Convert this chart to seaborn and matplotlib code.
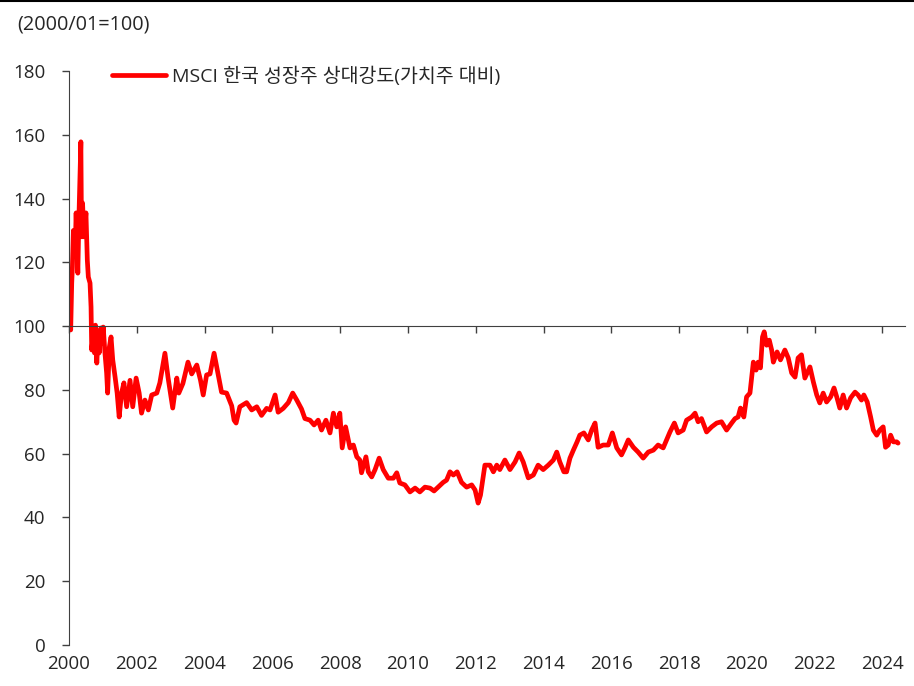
import pandas as pd
import seaborn as sns
import matplotlib.pyplot as plt
import matplotlib.lines as mlines

# decimal year, relative strength (2000/01=100)
years = [
    2000.00, 2000.05, 2000.08, 2000.10, 2000.13, 2000.18, 2000.21, 2000.26, 2000.29, 2000.35,
    2000.37, 2000.40, 2000.44, 2000.50, 2000.54, 2000.57, 2000.62, 2000.65, 2000.67, 2000.72,
    2000.75, 2000.78, 2000.82, 2000.86, 2000.89, 2000.94, 2000.97, 2001.01, 2001.06, 2001.11,
    2001.14, 2001.19, 2001.24, 2001.29, 2001.36, 2001.42, 2001.48, 2001.55, 2001.62, 2001.70,
    2001.80, 2001.88, 2001.98, 2002.07, 2002.14, 2002.24, 2002.34, 2002.44, 2002.59, 2002.68,
    2002.78, 2002.83, 2002.92, 2003.06, 2003.18, 2003.24, 2003.36, 2003.51, 2003.62, 2003.77,
    2003.88, 2003.96, 2004.06, 2004.16, 2004.28, 2004.36, 2004.50, 2004.65, 2004.80, 2004.87,
    2004.93, 2005.04, 2005.24, 2005.39, 2005.54, 2005.68, 2005.83, 2005.93, 2006.08, 2006.17,
    2006.32, 2006.47, 2006.60, 2006.72, 2006.86, 2006.96, 2007.11, 2007.23, 2007.35, 2007.45,
    2007.58, 2007.70, 2007.80, 2007.90, 2007.99, 2008.06, 2008.16, 2008.29, 2008.39, 2008.49,
    2008.58, 2008.63, 2008.76, 2008.83, 2008.93, 2009.03, 2009.15, 2009.27, 2009.42, 2009.57,
    2009.67, 2009.76, 2009.91, 2010.06, 2010.21, 2010.35, 2010.50, 2010.65, 2010.77, 2010.89,
    2011.04, 2011.14, 2011.24, 2011.34, 2011.45, 2011.58, 2011.73, 2011.88, 2011.98, 2012.07,
    2012.14, 2012.27, 2012.42, 2012.52, 2012.62, 2012.71, 2012.86, 2013.01, 2013.16, 2013.28,
    2013.40, 2013.55, 2013.70, 2013.84, 2013.99, 2014.14, 2014.29, 2014.39, 2014.48, 2014.60,
    2014.68, 2014.78, 2014.88, 2014.99, 2015.07, 2015.19, 2015.32, 2015.42, 2015.52, 2015.61,
    2015.76, 2015.91, 2016.03, 2016.16, 2016.30, 2016.40, 2016.50, 2016.65, 2016.79, 2016.94,
    2017.09, 2017.24, 2017.38, 2017.53, 2017.63, 2017.73, 2017.86, 2017.97, 2018.12, 2018.22,
    2018.37, 2018.47, 2018.56, 2018.66, 2018.81, 2018.96, 2019.11, 2019.25, 2019.40, 2019.55,
    2019.65, 2019.74, 2019.81, 2019.91, 2019.99, 2020.09, 2020.19, 2020.27, 2020.33, 2020.40,
    2020.46, 2020.51, 2020.58, 2020.66, 2020.73, 2020.78, 2020.89, 2020.99, 2021.12, 2021.22,
    2021.32, 2021.42, 2021.51, 2021.61, 2021.71, 2021.86, 2021.96, 2022.06, 2022.15, 2022.25,
    2022.35, 2022.47, 2022.57, 2022.65, 2022.74, 2022.84, 2022.94, 2023.06, 2023.19, 2023.28,
    2023.38, 2023.45, 2023.55, 2023.65, 2023.73, 2023.83, 2023.92, 2024.02, 2024.09, 2024.17,
    2024.24, 2024.32, 2024.42, 2024.46,
]
values = [
    108.2, 98.8, 113.5, 118.5, 130.0, 123.0, 135.5, 116.6, 133.0, 157.8,
    128.0, 138.6, 128.0, 135.5, 120.7, 115.4, 113.5, 106.0, 92.5, 97.8,
    91.6, 100.3, 88.4, 97.8, 91.6, 99.4, 94.7, 99.7, 91.6, 85.3,
    79.0, 93.4, 96.6, 89.4, 84.0, 79.0, 71.5, 79.0, 82.2, 74.7,
    83.0, 74.7, 83.7, 79.0, 72.7, 76.8, 73.7, 78.4, 79.0, 82.2,
    88.4, 91.5, 84.0, 74.3, 83.7, 79.0, 82.0, 88.7, 85.0, 87.8,
    83.0, 78.4, 84.7, 85.0, 91.5, 87.0, 79.3, 79.0, 75.0, 70.5,
    69.6, 74.7, 76.0, 73.7, 74.7, 72.0, 74.2, 73.7, 78.4, 73.0,
    74.2, 76.0, 79.0, 76.8, 74.0, 71.0, 70.5, 69.0, 70.5, 67.4,
    70.5, 66.5, 72.7, 68.4, 72.7, 61.8, 68.4, 61.8, 62.7, 59.0,
    58.0, 54.0, 59.0, 54.3, 52.7, 55.0, 58.6, 55.0, 52.3, 52.3,
    54.0, 50.8, 50.2, 48.0, 49.2, 48.0, 49.5, 49.2, 48.3, 49.5,
    51.0, 51.7, 54.3, 53.3, 54.3, 51.0, 49.5, 50.2, 48.6, 44.5,
    47.0, 56.4, 56.4, 54.3, 56.4, 55.0, 58.0, 55.0, 57.4, 60.2,
    57.4, 52.4, 53.3, 56.4, 55.0, 56.4, 58.0, 60.5, 57.4, 54.3,
    54.3, 58.6, 61.1, 63.7, 65.8, 66.5, 64.3, 67.4, 69.6, 62.0,
    62.7, 62.7, 66.5, 61.8, 59.6, 61.8, 64.3, 62.0, 60.5, 58.6,
    60.5, 61.1, 62.7, 61.8, 64.3, 66.8, 69.6, 66.5, 67.4, 70.5,
    71.5, 72.7, 70.0, 71.0, 66.8, 68.4, 69.6, 70.0, 67.4, 69.6,
    71.0, 71.5, 74.3, 71.5, 77.8, 79.0, 88.7, 86.2, 88.7, 86.9,
    96.6, 98.2, 94.0, 95.6, 92.5, 88.7, 91.9, 89.4, 92.5, 90.0,
    85.3, 84.0, 90.0, 91.0, 83.7, 87.2, 82.5, 78.4, 75.9, 79.0,
    76.2, 77.8, 80.6, 77.8, 74.3, 78.4, 74.3, 77.5, 79.3, 78.4,
    76.8, 78.4, 76.2, 71.5, 67.4, 65.8, 67.4, 68.4, 62.0, 62.7,
    65.8, 63.7, 63.7, 63.3,
]
series_label = 'MSCI 한국 성장주 상대강도(가치주 대비)'
unit_label = '(2000/01=100)'
x_ticks = list(range(2000, 2025, 2))
y_ticks = list(range(0, 181, 20))

df = pd.DataFrame({'year': years, 'value': values})

sns.set_style('white')
plt.rcParams['font.family'] = ['Open Sans', 'Noto Sans CJK KR', 'DejaVu Sans']

txt = '#262626'
spine_c = '#404040'
fs = 13.5

fig = plt.figure(figsize=(9.14, 6.86), dpi=100)
ax = fig.add_axes([0.0755, 0.0598, 0.9145, 0.8367])

sns.lineplot(data=df, x='year', y='value', color='#ff0000', linewidth=3.4, ax=ax)

ax.set_xlim(2000, 2024.66)
ax.set_ylim(0, 180)
ax.set_yticks(y_ticks)
ax.set_xticks(x_ticks)
ax.set_xlabel('')
ax.set_ylabel('')

for s in ['top', 'right']:
    ax.spines[s].set_visible(False)
ax.spines['left'].set_color(spine_c)
ax.spines['bottom'].set_color(spine_c)
ax.spines['bottom'].set_position(('data', 100))

ax.tick_params(axis='y', direction='out', length=5, width=1, color=spine_c,
               labelsize=fs, labelcolor=txt, pad=12, left=True)
ax.tick_params(axis='x', direction='out', length=5, width=1, color=spine_c,
               labelbottom=False, bottom=True)

sec = ax.secondary_xaxis('bottom')
sec.set_xticks(x_ticks)
sec.tick_params(length=0, labelsize=fs, labelcolor=txt, pad=7)
sec.spines['bottom'].set_visible(False)

handle = mlines.Line2D([], [], color='#ff0000', linewidth=3.4, label=series_label)
ax.legend(handles=[handle], loc='upper left', bbox_to_anchor=(0.051, 1.008),
          frameon=False, fontsize=14, handlelength=2.8, handletextpad=0.3,
          borderpad=0, borderaxespad=0, labelcolor=txt)

fig.text(0.019, 0.9636, unit_label, fontsize=14.3, color=txt, va='center', ha='left')
fig.add_artist(mlines.Line2D([0, 1], [0.998, 0.998], color='black', linewidth=1.5,
                             transform=fig.transFigure))

fig.savefig('out.png', dpi=100)
